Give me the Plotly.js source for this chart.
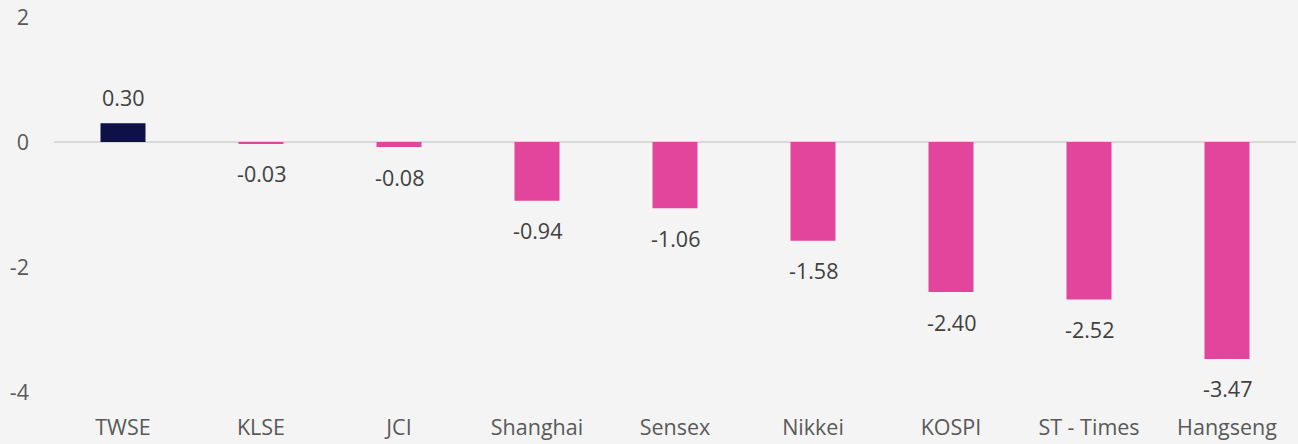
<!DOCTYPE html>
<html>
<head>
<meta charset="utf-8">
<script src="https://cdn.plot.ly/plotly-3.0.1.min.js"></script>
<style>html,body{margin:0;padding:0;background:#f4f4f4;}#chart{width:1298px;height:444px;}</style>
</head>
<body>
<div id="chart"></div>
<script>
const categories = ["TWSE","KLSE","JCI","Shanghai","Sensex","Nikkei","KOSPI","ST - Times","Hangseng"];
const values = [0.30,-0.03,-0.08,-0.94,-1.06,-1.58,-2.40,-2.52,-3.47];
const yTicks = [-4,-2,0,2];

const colors = values.map(v => v >= 0 ? "#0d1148" : "#e2459b");
const labelFont = {family: "Open Sans, Noto Sans, sans-serif", size: 21.5, color: "#404040"};

const annotations = values.map((v, i) => ({
  x: categories[i], y: v, xref: "x", yref: "y",
  text: v.toFixed(2), showarrow: false,
  yanchor: "middle", yshift: v >= 0 ? 26 : -30,
  font: labelFont
}));

Plotly.newPlot("chart", [{
  type: "bar", x: categories, y: values,
  marker: {color: colors}, hoverinfo: "none"
}], {
  width: 1298, height: 444,
  paper_bgcolor: "#f4f4f4", plot_bgcolor: "#f4f4f4",
  margin: {l: 54, r: 2, t: 17, b: 52},
  bargap: 0.674,
  showlegend: false,
  font: {family: "Open Sans, Noto Sans, sans-serif", size: 21.5, color: "#595959"},
  xaxis: {type: "category", showgrid: false, zeroline: false, showline: false,
          ticks: "", ticklabelstandoff: 20, tickfont: {size: 21.5, color: "#595959"}},
  yaxis: {range: [-4, 2], tickvals: yTicks, ticktext: yTicks.map(String),
          showgrid: false, zeroline: true, zerolinecolor: "#d9d9d9", zerolinewidth: 2,
          showline: false, ticks: "", ticklabelstandoff: 24, tickfont: {size: 21.5, color: "#595959"}},
  annotations: annotations
}, {staticPlot: true});
</script>
</body>
</html>
